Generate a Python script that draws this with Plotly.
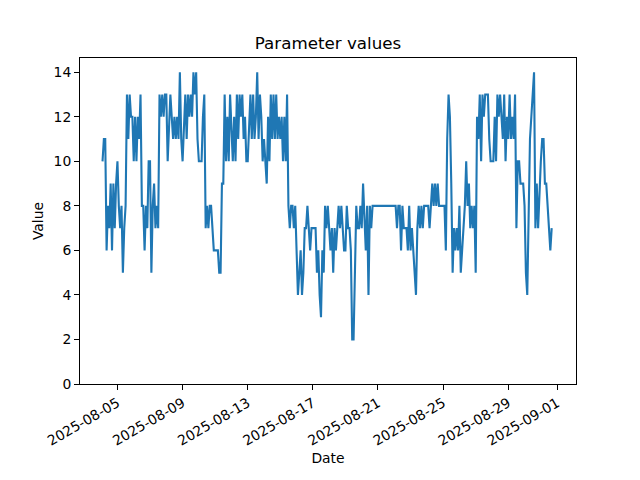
import pandas as pd
import plotly.graph_objects as go

# Values read per day, sampled every 2 hours (08-04 starts at 02:00)
aug04 = [10, 11, 11, 6, 8, 7, 9, 6, 9, 7, 9]
aug05 = [10, 8, 7, 8, 5, 7, 8, 13, 11, 13, 12, 12]
aug06 = [10, 12, 10, 12, 11, 13, 8, 8, 6, 8, 7, 10]
aug07 = [10, 5, 8, 9, 7, 8, 7, 13, 12, 13, 12, 13]
aug08 = [13, 10, 12, 13, 12, 11, 12, 11, 12, 11, 14, 11]
aug09 = [10, 12, 13, 11, 13, 12, 13, 12, 14, 13, 14, 11]
aug10 = [10, 10, 10, 12, 13, 7, 8, 7, 8, 8, 7, 6]
aug11 = [6, 6, 6, 5, 5, 9, 9, 13, 10, 12, 10, 13]
aug12 = [11, 10, 12, 10, 13, 11, 13, 12, 13, 11, 12, 10]
aug13 = [10, 12, 13, 11, 13, 11, 12, 14, 11, 13, 12, 10]
aug14 = [11, 10, 9, 12, 10, 13, 11, 13, 11, 13, 11, 12]
aug15 = [11, 12, 10, 12, 10, 13, 8, 7, 8, 8, 7, 8]
aug16 = [6, 4, 5, 6, 4, 5, 7, 7, 8, 7, 6, 7]
aug17 = [7, 7, 7, 5, 6, 4, 3, 6, 5, 8, 7, 8]
aug18 = [7, 6, 7, 5, 7, 6, 7, 8, 7, 8, 7, 6]
aug19 = [6, 8, 7, 7, 6, 2, 2, 6, 8, 7, 7, 8]
aug20 = [7, 9, 7, 6, 8, 4, 8, 7, 8, 8, 8, 8]
aug21 = [8, 8, 8, 8, 8, 8, 8, 8, 8, 8, 8, 8]
aug22 = [8, 8, 7, 8, 8, 6, 8, 7, 7, 7, 6, 8]
aug23 = [6, 7, 6, 5, 4, 7, 8, 7, 8, 7, 8, 8]
aug24 = [8, 8, 7, 8, 9, 8, 9, 8, 9, 8, 8, 8]
aug25 = [8, 8, 6, 11, 13, 12, 9, 5, 7, 6, 7, 6]
aug26 = [8, 5, 6, 7, 8, 10, 8, 9, 7, 8, 7, 8]
aug27 = [5, 12, 11, 13, 10, 13, 12, 13, 13, 13, 11, 10]
aug28 = [10, 10, 12, 10, 13, 12, 13, 12, 11, 13, 10, 12]
aug29 = [11, 13, 11, 12, 11, 13, 7, 10, 10, 9, 9, 9]
aug30 = [8, 5, 4, 7, 11, 12, 13, 14, 7, 9, 7, 9]
aug31 = [10, 11, 11, 9, 9, 8, 7, 6, 7]

tick_dates = ["2025-08-05", "2025-08-09", "2025-08-13", "2025-08-17",
              "2025-08-21", "2025-08-25", "2025-08-29", "2025-09-01"]
y_ticks = [0, 2, 4, 6, 8, 10, 12, 14]

days = [aug04, aug05, aug06, aug07, aug08, aug09, aug10, aug11, aug12, aug13,
        aug14, aug15, aug16, aug17, aug18, aug19, aug20, aug21, aug22, aug23,
        aug24, aug25, aug26, aug27, aug28, aug29, aug30, aug31]
values = [v for d in days for v in d]
dates = pd.date_range("2025-08-04 02:00", periods=len(values), freq="2h")

fig = go.Figure()
fig.add_trace(go.Scatter(x=dates, y=values, mode="lines",
                         line=dict(color="#1f77b4", width=2.1),
                         showlegend=False))

axis_common = dict(showline=True, linecolor="black", linewidth=1.1, mirror=True,
                   ticks="outside", ticklen=4.9, tickwidth=1.1, tickcolor="black",
                   showgrid=False, zeroline=False,
                   tickfont=dict(family="DejaVu Sans", size=13.9, color="black"))

fig.update_layout(
    width=640, height=480,
    margin=dict(l=80, r=64, t=57.6, b=96),
    paper_bgcolor="white", plot_bgcolor="white",
    font=dict(family="DejaVu Sans", size=13.9, color="black"),
    title=dict(text="Parameter values", x=0.5, xref="paper", xanchor="center",
               y=1 - 43 / 480, yanchor="middle", yref="container",
               font=dict(family="DejaVu Sans", size=16.7, color="black")),
    xaxis=dict(range=["2025-08-02 16:48", "2025-09-02 03:50"],
               tickvals=tick_dates, ticktext=tick_dates, tickangle=-30,
               title=dict(text="Date", standoff=5,
                          font=dict(family="DejaVu Sans", size=13.9)),
               **axis_common),
    yaxis=dict(range=[0, 14.64], tickvals=y_ticks,
               title=dict(text="Value", standoff=6,
                          font=dict(family="DejaVu Sans", size=13.9)),
               **axis_common),
)

fig.write_html("out.html",
               config={"displayModeBar": False},
               post_script="document.body.style.margin='0';"
                           "document.body.style.overflow='hidden';")
